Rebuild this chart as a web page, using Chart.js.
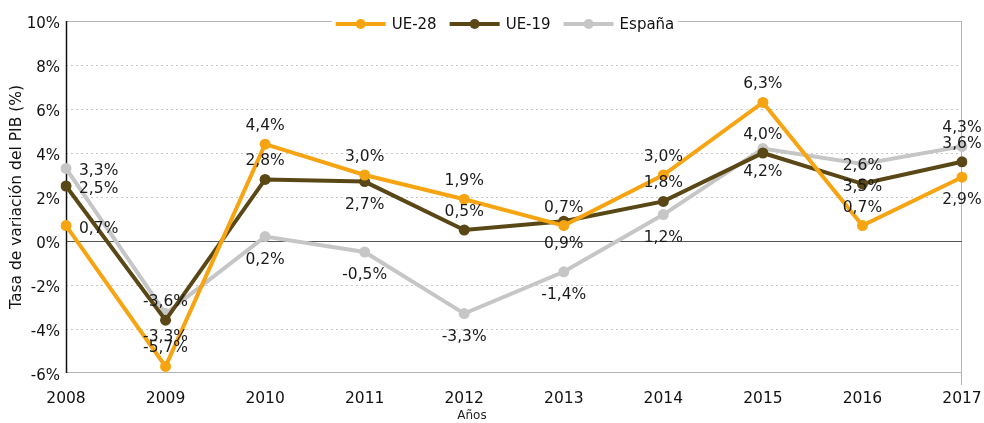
<!DOCTYPE html>
<html>
<head>
<meta charset="utf-8">
<script src="https://cdn.jsdelivr.net/npm/chart.js@4"></script>
<style>
  html, body { margin: 0; padding: 0; background: #fff; }
  #wrap { width: 984px; height: 423px; }
</style>
</head>
<body>
<div id="wrap"><canvas id="pibChart" width="984" height="423"></canvas></div>
<script>
// Datos
const years = ['2008', '2009', '2010', '2011', '2012', '2013', '2014', '2015', '2016', '2017'];
const ue28 = [0.7, -5.7, 4.4, 3.0, 1.9, 0.7, 3.0, 6.3, 0.7, 2.9];
const ue19 = [2.5, -3.6, 2.8, 2.7, 0.5, 0.9, 1.8, 4.0, 2.6, 3.6];
const espana = [3.3, -3.3, 0.2, -0.5, -3.3, -1.4, 1.2, 4.2, 3.5, 4.3];
const yTicks = [-6, -4, -2, 0, 2, 4, 6, 8, 10];

// donde va cada etiqueta: r = derecha, a = arriba, b = abajo
const labelPos = {
    'UE-28': ['r', 'a', 'a', 'a', 'a', 'a', 'a', 'a', 'a', 'b'],
    'UE-19': ['r', 'a', 'a', 'b', 'a', 'b', 'a', 'a', 'a', 'a'],
    'España': ['r', 'b', 'b', 'b', 'b', 'b', 'b', 'b', 'b', 'a']
};

const FONT = 'DejaVu Sans';
const fmt = v => v.toFixed(1).replace('.', ',') + '%';

// ejes, línea del cero y bordes
const framePlugin = {
    id: 'frame',
    beforeDatasetsDraw(chart) {
        const { ctx, chartArea: a, scales: { y } } = chart;
        ctx.save();
        ctx.lineWidth = 1;
        ctx.strokeStyle = '#b4b4b4';
        ctx.beginPath();
        ctx.moveTo(a.left, a.top + 0.5); ctx.lineTo(a.right, a.top + 0.5);
        ctx.moveTo(a.right - 0.5, a.top); ctx.lineTo(a.right - 0.5, a.bottom + 12);
        ctx.moveTo(a.left, a.bottom - 0.5); ctx.lineTo(a.right, a.bottom - 0.5);
        ctx.stroke();
        ctx.strokeStyle = '#555';
        const z = Math.round(y.getPixelForValue(0)) + 0.5;
        ctx.beginPath();
        ctx.moveTo(a.left, z); ctx.lineTo(a.right, z);
        ctx.stroke();
        ctx.strokeStyle = '#111';
        ctx.lineWidth = 1.5;
        ctx.beginPath();
        ctx.moveTo(a.left + 0.5, a.top); ctx.lineTo(a.left + 0.5, a.bottom);
        ctx.stroke();
        ctx.restore();
    },
    afterDraw(chart) {
        // título del eje x, algo desplazado a la izquierda como en el original
        const ctx = chart.ctx;
        ctx.save();
        ctx.font = '12px "' + FONT + '"';
        ctx.fillStyle = '#222';
        ctx.textAlign = 'center';
        ctx.textBaseline = 'middle';
        ctx.fillText('Años', 472, 416);
        ctx.restore();
    }
};

// etiquetas de valores
const valuePlugin = {
    id: 'values',
    afterDatasetsDraw(chart) {
        const ctx = chart.ctx;
        ctx.save();
        ctx.font = '15.5px "' + FONT + '"';
        ctx.fillStyle = '#1a1a1a';
        ctx.textBaseline = 'middle';
        chart.data.datasets.forEach((ds, i) => {
            const meta = chart.getDatasetMeta(i);
            meta.data.forEach((pt, j) => {
                const pos = labelPos[ds.label][j];
                const txt = fmt(ds.data[j]);
                if (pos === 'r') {
                    ctx.textAlign = 'left';
                    ctx.fillText(txt, pt.x + 13, pt.y + 3);
                } else {
                    ctx.textAlign = 'center';
                    ctx.fillText(txt, pt.x, pos === 'a' ? pt.y - 18 : pt.y + 23);
                }
            });
        });
        ctx.restore();
    }
};

// leyenda encima del borde superior
const legendPlugin = {
    id: 'topLegend',
    afterDraw(chart) {
        const ctx = chart.ctx;
        const top = chart.chartArea.top;
        const cy = top + 3;
        ctx.save();
        ctx.font = '15px "' + FONT + '"';
        const items = chart.data.datasets.map(ds => ({ ds, w: ctx.measureText(ds.label).width }));
        const sample = 50, gap = 6, spacing = 13;
        let total = 0;
        items.forEach(it => { total += sample + gap + it.w; });
        total += spacing * (items.length - 1);
        let x = 505 - total / 2;
        ctx.fillStyle = '#fff';
        ctx.fillRect(x - 4, cy - 9, total + 8, 18);
        items.forEach(it => {
            ctx.strokeStyle = it.ds.borderColor;
            ctx.lineWidth = 4;
            ctx.beginPath();
            ctx.moveTo(x, cy); ctx.lineTo(x + sample, cy);
            ctx.stroke();
            ctx.fillStyle = it.ds.borderColor;
            ctx.beginPath();
            ctx.arc(x + sample / 2, cy, 5, 0, Math.PI * 2);
            ctx.fill();
            ctx.fillStyle = '#111';
            ctx.textAlign = 'left';
            ctx.textBaseline = 'middle';
            ctx.fillText(it.ds.label, x + sample + gap, cy + 1);
            x += sample + gap + it.w + spacing;
        });
        ctx.restore();
    }
};

function serie(label, data, color) {
    return {
        label: label,
        data: data,
        borderColor: color,
        backgroundColor: color,
        borderWidth: 4,
        pointRadius: 5.5,
        pointHoverRadius: 5.5,
        pointBorderWidth: 0,
        tension: 0
    };
}

const ctx = document.getElementById('pibChart').getContext('2d');
const pibChart = new Chart(ctx, {
    type: 'line',
    data: {
        labels: years,
        datasets: [
            serie('UE-28', ue28, '#f7a412'),
            serie('UE-19', ue19, '#5a4716'),
            serie('España', espana, '#c6c6c6')
        ]
    },
    options: {
        responsive: false,
        animation: false,
        layout: { padding: { top: 21, right: 22, left: 0, bottom: 0 } },
        plugins: {
            legend: { display: false },
            tooltip: { enabled: false }
        },
        scales: {
            x: {
                offset: false,
                grid: { display: false },
                border: { display: false },
                ticks: { color: '#111', font: { family: FONT, size: 15.5 }, padding: 9, maxRotation: 0 },
                afterFit(scale) {
                    scale.height = 50;
                    scale.paddingLeft = 0;
                    scale.paddingRight = 0;
                }
            },
            y: {
                min: -6,
                max: 10,
                afterBuildTicks(scale) { scale.ticks = yTicks.map(v => ({ value: v })); },
                grid: {
                    color: c => (c.tick && (c.tick.value === 0 || c.tick.value === 10 || c.tick.value === -6)) ? 'rgba(0,0,0,0)' : '#c8c8c8',
                    lineWidth: 1,
                    drawTicks: false
                },
                border: { display: false, dash: [2, 3] },
                ticks: {
                    color: '#111', font: { family: FONT, size: 15 }, padding: 6, labelOffset: 3,
                    callback: v => v + '%'
                },
                title: {
                    display: true, text: 'Tasa de variación del PIB (%)', color: '#111',
                    font: { family: FONT, size: 15.5 }, padding: { top: 8, bottom: 0 }
                },
                afterFit(scale) { scale.width = 66; }
            }
        }
    },
    plugins: [framePlugin, valuePlugin, legendPlugin]
});
</script>
</body>
</html>
